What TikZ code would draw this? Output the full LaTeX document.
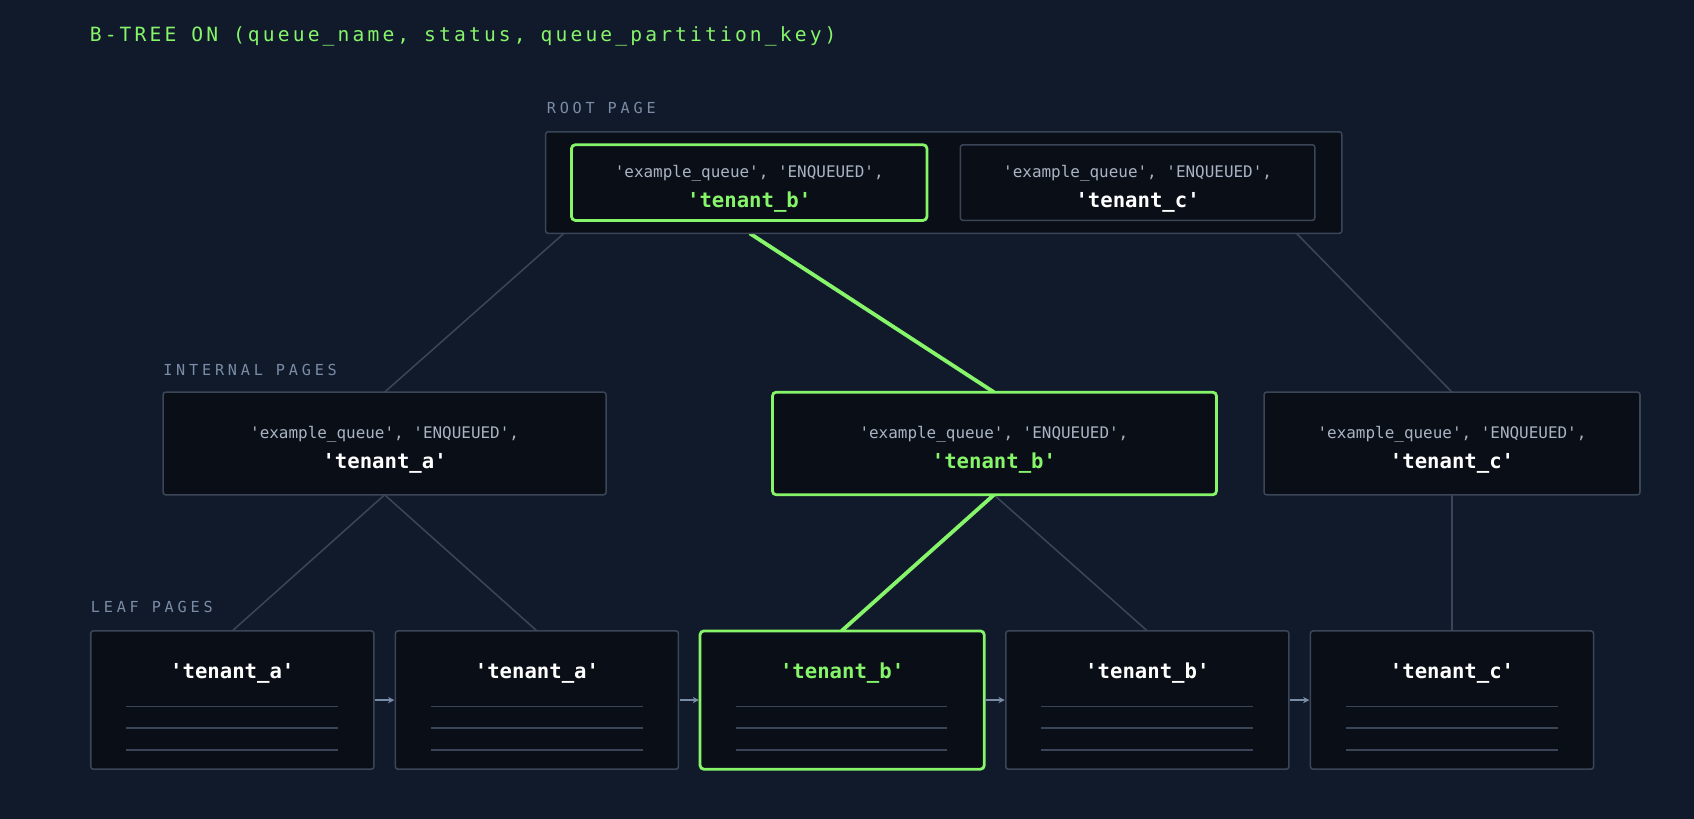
\documentclass[tikz,border=0pt]{standalone}
\usepackage{fontspec}
\setmonofont{DejaVu Sans Mono}
\newfontfamily\trklab[LetterSpace=25]{DejaVu Sans Mono}
\newfontfamily\trktitle[LetterSpace=16]{DejaVu Sans Mono}
\usetikzlibrary{arrows.meta}
\definecolor{bg}{HTML}{111A2B}
\definecolor{boxf}{HTML}{0A0E17}
\definecolor{edge}{HTML}{3A4657}
\definecolor{grn}{HTML}{86F56A}
\definecolor{lbl}{HTML}{7A8CA6}
\definecolor{sub}{HTML}{A9B4C4}
\begin{document}
\begin{tikzpicture}[x=0.03cm,y=-0.03cm,font=\ttfamily,
  box/.style={draw=edge,line width=1.2pt,fill=boxf,rounded corners=2pt},
  gbox/.style={draw=grn,line width=2.2pt,fill=boxf,rounded corners=3pt},
  conn/.style={edge,line width=1.2pt},
  gconn/.style={grn,line width=3pt},
  lab/.style={anchor=west,text=lbl,font=\trklab\fontsize{12}{14}\selectfont},
  small/.style={text=sub,font=\ttfamily\fontsize{12.6}{14}\selectfont},
  big/.style={text=white,font=\ttfamily\bfseries\fontsize{16.3}{18}\selectfont},
  bigg/.style={text=grn,font=\ttfamily\bfseries\fontsize{16.3}{18}\selectfont},
  rule/.style={edge,line width=1.2pt},
  arr/.style={lbl,line width=1.2pt,-{Stealth[length=5pt,width=5pt]}}]
\fill[bg] (0,0) rectangle (1568,758);
\useasboundingbox (0,0) rectangle (1568,758);
\node[anchor=west,text=grn,font=\trktitle\fontsize{15.5}{18}\selectfont] (title) at (79,34) {B-TREE ON (queue\_name, status, queue\_partition\_key)};
\node[lab] (lroot) at (502,100) {ROOT PAGE};
\node[lab] (lint) at (147,342) {INTERNAL PAGES};
\node[lab] (lleaf) at (80,562) {LEAF PAGES};
% coordinates for connectors
\coordinate (r1) at (522,216); \coordinate (r2) at (694,216); \coordinate (r3) at (1200,216);
\coordinate (ia) at (356,363); \coordinate (ib) at (920,363); \coordinate (ic) at (1344,363);
\coordinate (iab) at (356,458); \coordinate (ibb) at (920,458); \coordinate (icb) at (1344,458);
\coordinate (l1) at (215,584); \coordinate (l2) at (497,584); \coordinate (l3) at (779,584);
\coordinate (l4) at (1062,584); \coordinate (l5) at (1344,584);
\draw[conn] (r1) -- (ia); \draw[conn] (r3) -- (ic);
\draw[conn] (iab) -- (l1); \draw[conn] (iab) -- (l2);
\draw[conn] (ibb) -- (l4); \draw[conn] (icb) -- (l5);
\draw[gconn] (r2) -- (ib); \draw[gconn] (ibb) -- (l3);
% root
\draw[box] (505,122) rectangle (1242,216);
\draw[gbox] (529,134) rectangle (858,204);
\draw[box] (889,134) rectangle (1217,204);
\node[small] (rs1) at (693.5,160) {'example\_queue', 'ENQUEUED',};
\node[bigg] (rb1) at (693.5,187) {'tenant\_b'};
\node[small] (rs2) at (1053,160) {'example\_queue', 'ENQUEUED',};
\node[big] (rb2) at (1053,187) {'tenant\_c'};
% internal
\draw[box] (151,363) rectangle (561,458);
\draw[gbox] (715,363) rectangle (1126,458);
\draw[box] (1170,363) rectangle (1518,458);
\node[small] (is1) at (356,402) {'example\_queue', 'ENQUEUED',};
\node[big] (ib1) at (356,429) {'tenant\_a'};
\node[small] (is2) at (920,402) {'example\_queue', 'ENQUEUED',};
\node[bigg] (ib2) at (920,429) {'tenant\_b'};
\node[small] (is3) at (1344,402) {'example\_queue', 'ENQUEUED',};
\node[big] (ib3) at (1344,429) {'tenant\_c'};
% leaves
\foreach \x/\t/\s [count=\i] in {84/tenant\_a/big,366/tenant\_a/big,931/tenant\_b/big,1213/tenant\_c/big}{
  \draw[box] (\x,584) rectangle ++(262,128);
  \node[\s] (leaf\i) at (\x+131,623) {'\t'};
  \foreach \yy in {654,674,694} \draw[rule] (\x+33,\yy) -- (\x+229,\yy);
}
\draw[gbox] (648,584) rectangle (911,712);
\node[bigg] (leafg) at (779.5,623) {'tenant\_b'};
\foreach \yy in {654,674,694} \draw[rule] (681,\yy) -- (877,\yy);
\foreach \a in {347,629,912,1194} \draw[arr] (\a,648) -- (\a+18,648);
\end{tikzpicture}
\end{document}
